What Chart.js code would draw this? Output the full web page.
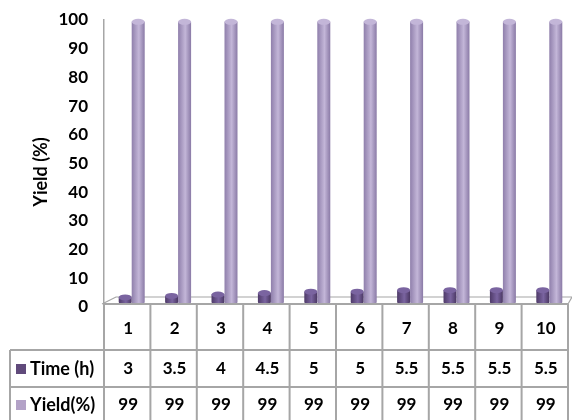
<!DOCTYPE html>
<html>
<head>
<meta charset="utf-8">
<script src="https://cdn.jsdelivr.net/npm/chart.js@4"></script>
<style>
  html, body { margin: 0; padding: 0; background: #fff; }
  #wrap { width: 572px; height: 420px; }
</style>
</head>
<body>
<div id="wrap"><canvas id="chart" width="572" height="420"></canvas></div>
<script>
const categories = ["1", "2", "3", "4", "5", "6", "7", "8", "9", "10"];
const timeValues = [3, 3.5, 4, 4.5, 5, 5, 5.5, 5.5, 5.5, 5.5];
const yieldValues = [99, 99, 99, 99, 99, 99, 99, 99, 99, 99];
const seriesNames = ["Time (h)", "Yield(%)"];
const yTicks = [0, 10, 20, 30, 40, 50, 60, 70, 80, 90, 100];

const FONT = "Lato, 'DejaVu Sans', sans-serif";
const darkCol = ["#4e3a68", "#7a64a0", "#4a3762"];
const lightCol = ["#8f7fab", "#c3b6d8", "#8a7aa6"];
const gridGrey = "#a6a6a6";

// draws columns as cylinders plus the data table under the plot
const cylinderTable = {
  id: "cylinderTable",
  afterDatasetsDraw(chart) {
    const ctx = chart.ctx;
    const shift = 4.5;
    const area = chart.chartArea;
    const floorY = area.bottom - 3;

    // floor
    ctx.save();
    ctx.strokeStyle = gridGrey;
    ctx.lineWidth = 1.2;
    ctx.beginPath();
    ctx.moveTo(area.left - 2, floorY);
    ctx.lineTo(area.left + 12, floorY - 7);
    ctx.lineTo(area.right + 4, floorY - 7);
    ctx.lineTo(area.right, floorY);
    ctx.stroke();
    ctx.restore();

    chart.data.datasets.forEach((ds, di) => {
      const cols = di === 0 ? darkCol : lightCol;
      chart.getDatasetMeta(di).data.forEach(el => {
        const w = el.width;
        const x0 = el.x - w / 2 + shift;
        const top = el.y - 1;
        const base = el.base - 5;
        const ry = 3;
        const g = ctx.createLinearGradient(x0, 0, x0 + w, 0);
        g.addColorStop(0, cols[0]);
        g.addColorStop(0.55, cols[1]);
        g.addColorStop(1, cols[2]);
        ctx.save();
        ctx.fillStyle = g;
        ctx.beginPath();
        ctx.moveTo(x0, top);
        ctx.lineTo(x0, base);
        ctx.ellipse(x0 + w / 2, base, w / 2, ry, 0, Math.PI, 0, true);
        ctx.lineTo(x0 + w, top);
        ctx.closePath();
        ctx.fill();
        ctx.fillStyle = cols[1];
        ctx.beginPath();
        ctx.ellipse(x0 + w / 2, top, w / 2, ry, 0, 0, Math.PI * 2);
        ctx.fill();
        ctx.restore();
      });
    });
  },
  afterDraw(chart) {
    const ctx = chart.ctx;
    const xs = chart.scales.x;
    const area = chart.chartArea;
    const step = xs.getPixelForValue(1) - xs.getPixelForValue(0);
    const left = xs.getPixelForValue(0) - step / 2;
    const right = xs.getPixelForValue(categories.length - 1) + step / 2;
    const rows = [area.bottom - 3, 350, 387, 430];
    const headLeft = 10;

    ctx.save();
    // axis title
    ctx.fillStyle = "#000";
    ctx.font = "bold 18px " + FONT;
    ctx.textAlign = "center";
    ctx.textBaseline = "middle";
    ctx.translate(41, 172);
    ctx.rotate(-Math.PI / 2);
    ctx.fillText("Yield (%)", 0, 0);
    ctx.restore();

    ctx.save();
    ctx.strokeStyle = gridGrey;
    ctx.lineWidth = 2;
    ctx.beginPath();
    ctx.moveTo(left, rows[0]); ctx.lineTo(right, rows[0]);
    ctx.moveTo(headLeft, rows[1]); ctx.lineTo(right, rows[1]);
    ctx.moveTo(headLeft, rows[2]); ctx.lineTo(right, rows[2]);
    for (let i = 0; i <= categories.length; i++) {
      const x = left + i * step;
      ctx.moveTo(x, rows[0]); ctx.lineTo(x, rows[3]);
    }
    ctx.moveTo(headLeft, rows[1]); ctx.lineTo(headLeft, rows[3]);
    ctx.stroke();

    ctx.fillStyle = "#000";
    ctx.font = "bold 17px " + FONT;
    ctx.textAlign = "center";
    ctx.textBaseline = "middle";
    const rowData = [categories, timeValues, yieldValues];
    const mids = [329, 369, 405];
    rowData.forEach((arr, r) => {
      arr.forEach((v, i) => {
        ctx.fillText(String(v), xs.getPixelForValue(i) + 1, mids[r]);
      });
    });

    // row headers with legend keys
    ctx.textAlign = "left";
    ctx.font = "bold 18px " + FONT;
    [1, 2].forEach((r, k) => {
      ctx.fillStyle = k === 0 ? "#604a7b" : "#b3a2c7";
      ctx.fillRect(16, mids[r] - 5, 10, 10);
      ctx.fillStyle = "#000";
      ctx.fillText(seriesNames[k], 30, mids[r]);
    });
    ctx.restore();
  }
};

new Chart(document.getElementById("chart"), {
  type: "bar",
  data: {
    labels: categories,
    datasets: [
      { label: seriesNames[0], data: timeValues, backgroundColor: "rgba(0,0,0,0)" },
      { label: seriesNames[1], data: yieldValues, backgroundColor: "rgba(0,0,0,0)" }
    ]
  },
  options: {
    responsive: false,
    animation: false,
    layout: { padding: { left: 0, right: 4, top: 20, bottom: 113 } },
    datasets: { bar: { categoryPercentage: 0.56, barPercentage: 1 } },
    plugins: { legend: { display: false }, tooltip: { enabled: false } },
    scales: {
      x: { display: false },
      y: {
        min: 0,
        max: 100,
        afterBuildTicks(scale) { scale.ticks = yTicks.map(v => ({ value: v })); },
        afterFit(scale) {
          scale.width = 104;
          scale.paddingTop = 0;
          scale.paddingBottom = 0;
        },
        grid: { display: false, drawTicks: false },
        border: { display: true, color: gridGrey, width: 1.5 },
        ticks: { padding: 16, color: "#000", font: { family: FONT, size: 17, weight: "bold" } },
        title: { display: false }
      }
    }
  },
  plugins: [cylinderTable]
});
</script>
</body>
</html>
